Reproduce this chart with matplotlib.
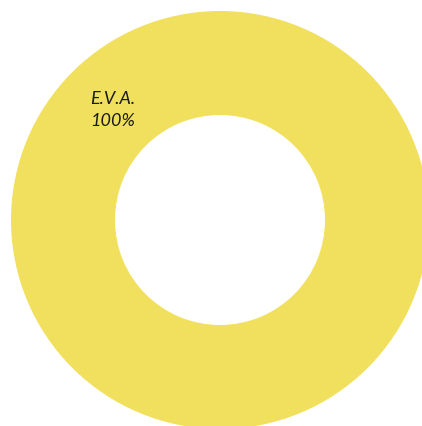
import matplotlib
matplotlib.use("Agg")
import matplotlib.pyplot as plt

categories = ["E.V.A."]
values = [100]
colors = ["#F1E05E"]

fig = plt.figure(figsize=(4.22, 4.27), dpi=100)
ax = fig.add_axes([0, 0, 1, 1])

ax.pie(values, colors=colors, center=(220, 221), radius=209,
       wedgeprops=dict(width=104, edgecolor="none"), startangle=90,
       frame=True)
ax.set_xlim(0, 422)
ax.set_ylim(427, 0)
ax.set_aspect("equal")
ax.axis("off")

total = sum(values)
for cat, v in zip(categories, values):
    ax.text(113, 110, f"{cat}\n{v / total * 100:.0f}%", ha="center", va="center",
            fontsize=13, style="italic", color="#1a1a1a", linespacing=1.45,
            family="Lato")

fig.savefig("out.png", dpi=100)
